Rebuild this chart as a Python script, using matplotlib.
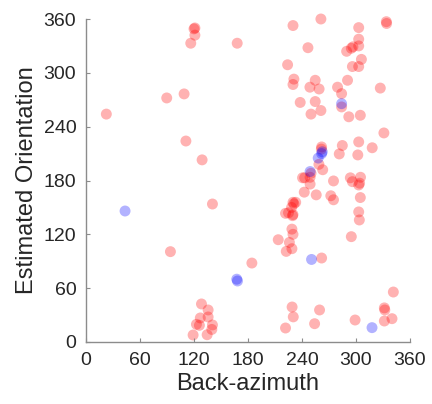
import matplotlib
matplotlib.use("Agg")
import matplotlib.pyplot as plt

# back-azimuth (deg) vs estimated orientation (deg)
red_x = [120, 121, 121, 116.4, 168, 89.7, 109, 22.6, 111, 129,
         230, 261, 303, 333.7, 334, 246.6, 289.6, 294.8, 296.6, 303, 303,
         224, 306, 296, 303, 231, 230, 254.7, 248.8, 259, 290.6, 279.5, 284, 327,
         238, 254.7, 261, 250, 284, 292, 304.8, 331, 303, 318, 284.8, 281.4, 302,
         261.8, 261.5, 258.8, 263, 250,
         240.6, 243, 249, 249, 275, 293.7, 296, 305, 303, 304, 242.5, 255.8, 272,
         275, 304.8,
         230, 233, 231, 228.4, 221.7, 225, 229.5, 230, 303, 303.7, 228.8, 230,
         226, 228.8, 222.5, 213.6, 294.8, 261.8, 184.3, 140.5, 93.8,
         341.5, 331.5, 332, 229, 230.3, 259.5, 254, 221.7, 299, 331.5, 340,
         128.3, 135.7, 127, 135.7, 122.7, 126, 140.5, 139.8, 119, 134.6]
red_y = [349, 350, 342, 333, 333, 272, 276.5, 254, 224, 203,
         352.7, 360, 350.4, 357, 355, 328, 324, 327.4, 329, 337.5, 330,
         309, 315, 307, 307, 293, 287, 291.7, 284, 282, 291.7, 284, 276.8, 283,
         267, 268, 258, 254, 262, 251, 252.7, 233, 223, 216.5, 219, 209.6, 208.5,
         217.4, 215, 198, 192, 188,
         183, 183, 183.6, 176, 179.5, 183, 178.7, 183.6, 175, 177, 167, 164, 163,
         158.5, 161,
         155.7, 155.7, 154, 150, 143.4, 144, 140.8, 142, 145, 136, 125.8, 120,
         111, 104, 101, 114, 117.4, 93.6, 88, 153.8, 100.7,
         55.7, 38, 35.7, 39, 28, 35.7, 20.4, 15.6, 24.5, 23.4, 26,
         42.4, 35.7, 26.8, 27.9, 19.7, 18.6, 19, 14, 7.8, 8.1]

blue_x = [43.4, 167.5, 168.3, 249, 258, 261.8, 262.5, 284, 250.6, 317.8]
blue_y = [146, 70, 68, 190, 205, 210, 212, 265.6, 92, 16]

ticks = [0, 60, 120, 180, 240, 300, 360]
text_color = "#262626"
axis_color = "#8c8c8c"

plt.rcParams["font.family"] = ["Liberation Sans", "DejaVu Sans"]

fig = plt.figure(figsize=(4.32, 4.04), dpi=100)
ax = fig.add_axes([86 / 432, 1 - 342 / 404, 324 / 432, 323 / 404])

ax.scatter(red_x, red_y, s=62, color=(1, 0, 0), alpha=0.3,
           edgecolors="none", clip_on=False)
ax.scatter(blue_x, blue_y, s=62, color=(0, 0, 1), alpha=0.3,
           edgecolors="none", clip_on=False)

ax.set_xlim(0, 360)
ax.set_ylim(0, 360)
ax.set_xticks(ticks)
ax.set_yticks(ticks)
ax.tick_params(direction="in", length=3, width=0.8, colors=axis_color,
               labelcolor=text_color, labelsize=14, pad=7)
for side in ("top", "right"):
    ax.spines[side].set_visible(False)
for side in ("left", "bottom"):
    ax.spines[side].set_color(axis_color)
    ax.spines[side].set_linewidth(1.0)

ax.set_xlabel("Back-azimuth", fontsize=17, color=text_color, labelpad=3)
ax.set_ylabel("Estimated Orientation", fontsize=17, color=text_color,
              labelpad=4)

fig.savefig("out.png", dpi=100)
